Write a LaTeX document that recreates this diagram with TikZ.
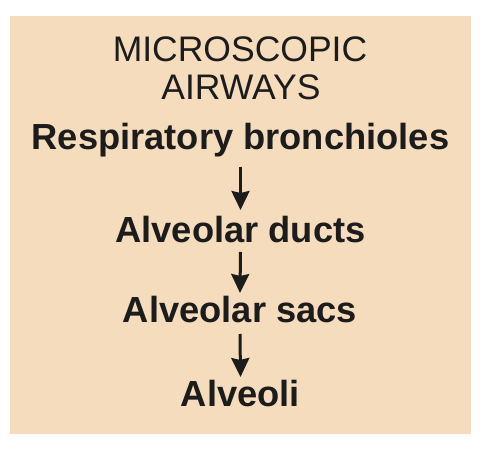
\documentclass[tikz,border=0pt]{standalone}
\usepackage{fontspec}
\setmainfont{Liberation Sans}
\usetikzlibrary{arrows.meta}
\definecolor{peach}{RGB}{245,220,188}
\definecolor{ink}{RGB}{28,28,28}
\begin{document}
\begin{tikzpicture}[x=1pt,y=1pt,
  title/.style={anchor=base,inner sep=0pt,text=ink,font=\fontsize{35.5}{40}\selectfont},
  item/.style={anchor=base,inner sep=0pt,text=ink,font=\fontsize{36.3}{40}\selectfont\bfseries},
  arr/.style={line width=3pt,draw=ink,-{Stealth[length=19pt,width=18pt,inset=2pt]}}]
\useasboundingbox (0,0) rectangle (488,466);
\fill[peach] (10,32) rectangle (471,450);
\node[title] (t1) at (240,404) {MICROSCOPIC};
\node[title] (t2) at (241,366) {AIRWAYS};
\node[item] (resp) at (240.5,316) {Respiratory bronchioles};
\node[item] (ducts) at (240.5,223) {Alveolar ducts};
\node[item] (sacs) at (240,143) {Alveolar sacs};
\node[item] (alv) at (240.5,59) {Alveoli};
\draw[arr] ([yshift=-17pt]resp.base) -- ([yshift=33pt]ducts.base);
\draw[arr] ([yshift=-9pt]ducts.base) -- ([yshift=30pt]sacs.base);
\draw[arr] ([yshift=-11pt]sacs.base) -- ([yshift=30pt]alv.base);
\end{tikzpicture}
\end{document}
